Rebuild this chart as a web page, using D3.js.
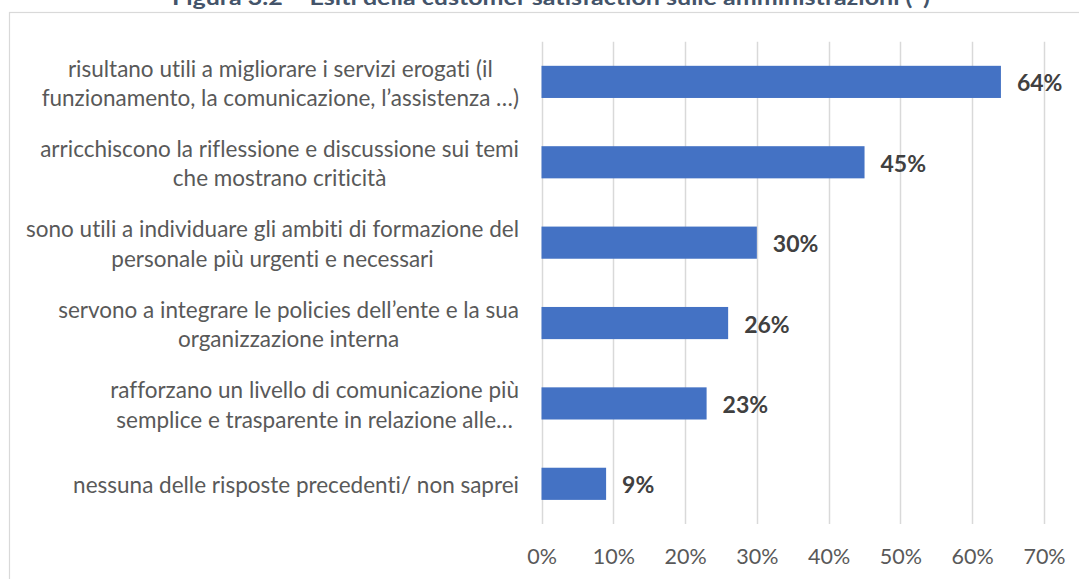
<!DOCTYPE html>
<html>
<head>
<meta charset="utf-8">
<script src="https://cdn.jsdelivr.net/npm/d3@7"></script>
<style>
  html, body { margin: 0; padding: 0; background: #ffffff; }
  svg { display: block; }
  svg text { font-variant-ligatures: none; font-feature-settings: "liga" 0, "clig" 0; }
</style>
</head>
<body>
<svg id="chart" width="1079" height="579"></svg>
<script>
// Survey answers (top to bottom) and share of respondents
const categories = [
  ["risultano utili a migliorare i servizi erogati (il", "funzionamento, la comunicazione, l’assistenza …)"],
  ["arricchiscono la riflessione e discussione sui temi", "che mostrano criticità"],
  ["sono utili a individuare gli ambiti di formazione del", "personale più urgenti e necessari"],
  ["servono a integrare le policies dell’ente e la sua", "organizzazione interna"],
  ["rafforzano un livello di comunicazione più", "semplice e trasparente in relazione alle…"],
  ["nessuna delle risposte precedenti/ non saprei"]
];
const values = [0.64, 0.45, 0.30, 0.26, 0.23, 0.09];
const xTicks = [0, 0.1, 0.2, 0.3, 0.4, 0.5, 0.6, 0.7];
const title = "Figura 3.2 – Esiti della customer satisfaction sulle amministrazioni (*)";

const svg = d3.select("#chart");
const font = "Lato, 'Open Sans', sans-serif";

// Title (sits above the chart frame, clipped by the page top)
svg.append("text")
  .attr("x", 551).attr("y", 4.5)
  .attr("text-anchor", "middle")
  .attr("font-family", font)
  .attr("font-weight", 700)
  .attr("font-size", 21)
  .attr("fill", "#44546A")
  .attr("textLength", 758)
  .attr("lengthAdjust", "spacingAndGlyphs")
  .text(title);

// Chart area frame
svg.append("rect")
  .attr("x", 9.5).attr("y", 12.5)
  .attr("width", 1100).attr("height", 600)
  .attr("fill", "#ffffff")
  .attr("stroke", "#d9d9d9")
  .attr("stroke-width", 1.2);

const plot = { left: 541.5, right: 1044, top: 41.7, bottom: 524 };

const x = d3.scaleLinear().domain([0, 0.7]).range([plot.left, plot.right]);
const y = d3.scaleBand()
  .domain(d3.range(categories.length))
  .range([plot.top, plot.bottom])
  .paddingInner(0.6)
  .paddingOuter(0.3);

// Vertical gridlines
svg.append("g")
  .selectAll("line")
  .data(xTicks)
  .join("line")
  .attr("x1", d => Math.round(x(d)) + 0.5)
  .attr("x2", d => Math.round(x(d)) + 0.5)
  .attr("y1", plot.top)
  .attr("y2", plot.bottom)
  .attr("stroke", "#d9d9d9")
  .attr("stroke-width", 1.5);

// Bottom axis labels
const xAxis = d3.axisBottom(x)
  .tickValues(xTicks)
  .tickFormat(d3.format(".0%"))
  .tickSize(0)
  .tickPadding(0);
const gx = svg.append("g")
  .attr("transform", `translate(0, 556)`)
  .call(xAxis);
gx.select(".domain").remove();
gx.selectAll("text")
  .attr("font-family", font)
  .attr("font-size", 21.5)
  .attr("fill", "#595959")
  .attr("dy", "0.35em")
  .attr("y", 0);

// Bars
svg.append("g")
  .selectAll("rect")
  .data(values)
  .join("rect")
  .attr("x", x(0))
  .attr("y", (d, i) => y(i))
  .attr("width", d => x(d) - x(0))
  .attr("height", y.bandwidth())
  .attr("fill", "#4472C4");

// Value labels
svg.append("g")
  .selectAll("text")
  .data(values)
  .join("text")
  .attr("x", d => x(d) + 16)
  .attr("y", (d, i) => y(i) + y.bandwidth() / 2 + 1.5)
  .attr("dy", "0.35em")
  .attr("font-family", font)
  .attr("font-weight", 700)
  .attr("font-size", 23)
  .attr("fill", "#404040")
  .text(d => d3.format(".0%")(d));

// Category labels: each block right-aligned, lines centred within the block
const lineGap = 29.5;
const labelRight = 519;
const catG = svg.append("g");
categories.forEach((lines, i) => {
  const cy = y(i) + y.bandwidth() / 2 + 1.5;
  const t = catG.append("text")
    .attr("font-family", font)
    .attr("font-size", 22.5)
    .attr("fill", "#595959")
    .attr("text-anchor", "middle");
  const spans = lines.map((ln, k) =>
    t.append("tspan")
      .attr("y", cy + (k - (lines.length - 1) / 2) * lineGap)
      .attr("dy", "0.35em")
      .text(ln)
  );
  const w = d3.max(spans, s => s.node().getComputedTextLength());
  spans.forEach(s => s.attr("x", labelRight - w / 2));
});
</script>
</body>
</html>
